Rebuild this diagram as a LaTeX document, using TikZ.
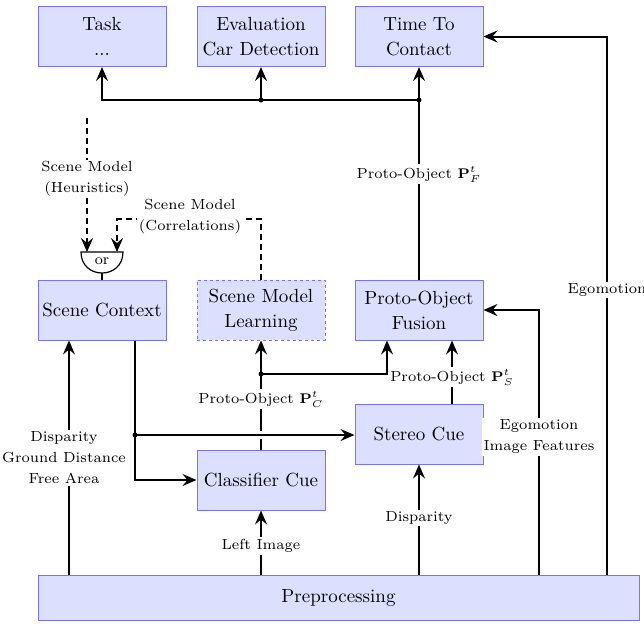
\documentclass[tikz,border=0pt]{standalone}
\usetikzlibrary{arrows.meta}
\definecolor{boxfill}{RGB}{221,223,255}
\definecolor{boxdraw}{RGB}{115,115,255}
\begin{document}
\begin{tikzpicture}[x=0.5pt,y=-0.5pt,
 blk/.style={draw=boxdraw, fill=boxfill, line width=0.5pt, minimum width=64pt, minimum height=30pt, align=center, inner sep=1pt, font=\fontsize{9.5}{12.5}\selectfont},
 conn/.style={line width=1pt, -{Stealth[length=7pt,width=6pt,inset=2.5pt]}},
 ln/.style={line width=1pt},
 dsh/.style={dash pattern=on 3pt off 2pt},
 lbl/.style={fill=white, inner sep=1pt, align=center, font=\fontsize{7.3}{10.5}\selectfont},
 jdot/.style={circle, fill=black, inner sep=0pt, minimum size=2.5pt}
]
\useasboundingbox (0,0) rectangle (644,623);
% boxes
\node[blk] (task) at (102,36.5) {Task\\...};
\node[blk] (eval) at (261,36.5) {Evaluation\\Car Detection};
\node[blk] (ttc) at (419,36.5) {Time To\\Contact};
\node[blk] (sc) at (102,310) {Scene Context};
\node[blk, dash pattern=on 1.5pt off 1.5pt] (sml) at (261,310) {Scene Model\\Learning};
\node[blk] (fus) at (419,310) {Proto-Object\\Fusion};
\node[blk] (stereo) at (419,434) {Stereo Cue};
\node[blk] (cls) at (261,480) {Classifier Cue};
\node[blk, minimum width=300.5pt, minimum height=22.5pt] (pre) at (338.5,597.5) {Preprocessing};
% coordinates
\coordinate (jE) at (261,100);
\coordinate (jF) at (419,100);
\coordinate (ex) at (607,0);
\coordinate (fx) at (539,0);
\coordinate (dx) at (69,0);
\coordinate (sx) at (135,0);
\coordinate (jS) at (135,435);
\coordinate (jC) at (261,374);
\coordinate (cx) at (387,0);
\coordinate (stx) at (452,0);
\coordinate (h0) at (87,118);
\coordinate (ht) at (87,252);
\coordinate (ct) at (117,252);
\coordinate (cc) at (117,219);
\coordinate (gb) at (102,273);
% top bus
\draw[ln] (fus.north) -- (jF);
\draw[conn] (jF) -- (ttc.south);
\draw[conn] (jF) -| (task.south);
\draw[conn] (jE) -- (eval.south);
\node[jdot] (dE) at (jE) {};
\node[jdot] (dF) at (jF) {};
% egomotion lines
\draw[conn] (pre.north -| ex) |- (ttc.east);
\draw[conn] (pre.north -| fx) |- (fus.east);
% preprocessing outputs
\draw[conn] (pre.north -| stereo.south) -- (stereo.south);
\draw[conn] (pre.north -| cls.south) -- (cls.south);
\draw[conn] (pre.north -| dx) -- (sc.south -| dx);
% classifier outputs
\draw[ln] (cls.north) -- (jC);
\draw[conn] (jC) -- (sml.south);
\draw[conn] (jC) -| (fus.south -| cx);
\node[jdot] (dC) at (jC) {};
% stereo to fusion
\draw[conn] (stereo.north -| stx) -- (fus.south -| stx);
% scene context outputs
\draw[conn] (sc.south -| sx) |- (cls.west);
\draw[white, line width=4pt] (250,435) -- (272,435);
\draw[conn] (jS) -- (stereo.west |- jS);
\node[jdot] (dS) at (jS) {};
% scene models
\draw[conn, dsh] (h0) -- (ht);
\draw[conn, dsh] (sml.north) |- (cc) -- (ct);
% or gate
\draw[fill=white, line width=0.6pt] (81,252) -- (123,252) .. controls (123,280) and (81,280) .. cycle;
\node[font=\fontsize{7.6}{10}\selectfont, inner sep=0pt] (gate) at (102,261) {or};
\draw[line width=0.8pt] (gb) -- (sc.north);
% labels
\node[lbl] (lPF) at (419,174) {Proto-Object $\mathbf{P}^t_F$};
\node[lbl] (lEgo) at (607,290) {Egomotion};
\node[lbl] (lEIF) at (539,437) {Egomotion\\Image Features};
\node[lbl] (lPS) at (452,377) {Proto-Object $\mathbf{P}^t_S$};
\node[lbl] (lPC) at (261,399) {Proto-Object $\mathbf{P}^t_C$};
\node[lbl] (lDisp) at (419,518) {Disparity};
\node[lbl] (lLeft) at (261,546) {Left Image};
\node[lbl] (lDGF) at (64,458) {Disparity\\Ground Distance\\Free Area};
\node[lbl] (lHeu) at (87,179) {Scene Model\\(Heuristics)};
\node[lbl] (lCor) at (190,217) {Scene Model\\(Correlations)};
\end{tikzpicture}
\end{document}
